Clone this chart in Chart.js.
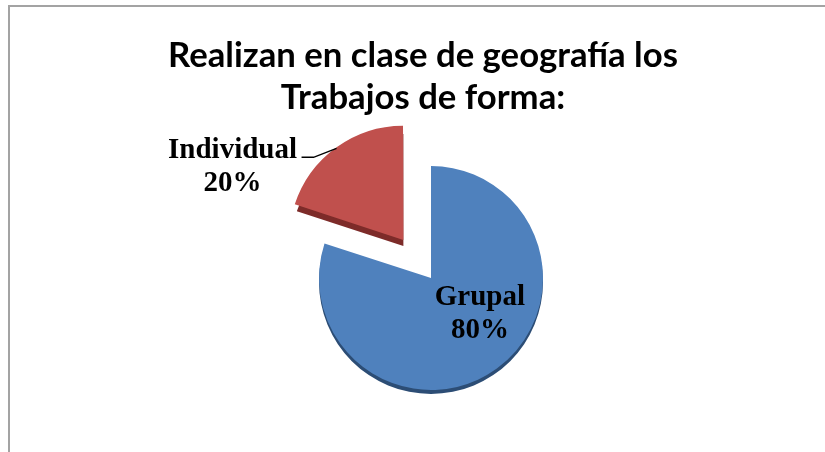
<!DOCTYPE html>
<html>
<head>
<meta charset="utf-8">
<script src="https://cdn.jsdelivr.net/npm/chart.js@4"></script>
<style>
  html, body { margin: 0; padding: 0; background: #fff; }
  #wrap { width: 825px; height: 452px; position: relative; }
</style>
</head>
<body>
<div id="wrap"><canvas id="pieChart" width="825" height="452"></canvas></div>
<script>
const categories = ['Grupal', 'Individual'];
const percentages = [80, 20];
const titleLines = ['Realizan en clase de geografía los', 'Trabajos de forma:'];

const sliceColors = ['#4f81bd', '#c0504d'];
const sideColors = ['#2c4d75', '#7d2b29'];
const sliceOffsets = [0, 188]; // chart.js v4 moves the arc by offset / 4

// frame + title, drawn by hand so the title can sit a bit left of the pie
const framePlugin = {
    id: 'frame',
    beforeDraw(chart) {
        const ctx = chart.ctx;
        ctx.save();
        ctx.strokeStyle = '#a3a3a3';
        ctx.lineWidth = 2;
        ctx.beginPath();
        ctx.moveTo(9, 452);
        ctx.lineTo(9, 6);
        ctx.lineTo(825, 6);
        ctx.stroke();

        ctx.fillStyle = '#000';
        ctx.textAlign = 'center';
        ctx.textBaseline = 'middle';
        // fit first line to about 510px like the original
        let size = 30;
        ctx.font = 'bold ' + size + 'px Lato';
        const w = ctx.measureText(titleLines[0]).width;
        size = size * 510 / w;
        ctx.font = 'bold ' + size.toFixed(1) + 'px Lato';
        ctx.fillText(titleLines[0], 423, 56);
        ctx.fillText(titleLines[1], 423, 98);
        ctx.restore();
    }
};

function sliceCenter(arc, i) {
    const p = arc.getProps(['x', 'y', 'startAngle', 'endAngle', 'outerRadius']);
    const mid = (p.startAngle + p.endAngle) / 2;
    const off = (sliceOffsets[i] || 0) / 4;
    return {
        x: p.x + Math.cos(mid) * off,
        y: p.y + Math.sin(mid) * off,
        a0: p.startAngle, a1: p.endAngle, mid: mid, r: p.outerRadius
    };
}

// fake 3D thickness: darker copy of every slice shifted down
const depthPlugin = {
    id: 'depth',
    beforeDatasetsDraw(chart) {
        const ctx = chart.ctx;
        const arcs = chart.getDatasetMeta(0).data;
        ctx.save();
        arcs.forEach((arc, i) => {
            const s = sliceCenter(arc, i);
            const depth = i === 1 ? 6 : 4;
            ctx.fillStyle = sideColors[i];
            ctx.beginPath();
            ctx.moveTo(s.x, s.y + depth);
            ctx.arc(s.x, s.y + depth, s.r, s.a0, s.a1);
            ctx.closePath();
            ctx.fill();
        });
        ctx.restore();
    }
};

// data labels: Grupal inside, Individual outside with leader line
const labelPlugin = {
    id: 'sliceLabels',
    afterDatasetsDraw(chart) {
        const ctx = chart.ctx;
        const arcs = chart.getDatasetMeta(0).data;
        ctx.save();
        ctx.fillStyle = '#000';
        ctx.font = 'bold 29px "Liberation Serif"';
        ctx.textBaseline = 'middle';
        arcs.forEach((arc, i) => {
            const s = sliceCenter(arc, i);
            const txt = [categories[i], percentages[i] + '%'];
            ctx.textAlign = 'center';
            if (i === 0) {
                const lx = s.x + Math.cos(s.mid) * s.r * 0.5 + 16;
                const ly = s.y + Math.sin(s.mid) * s.r * 0.4;
                ctx.fillText(txt[0], lx, ly - 17);
                ctx.fillText(txt[1], lx, ly + 16);
            } else {
                const ex = s.x + Math.cos(s.mid) * s.r;
                const ey = s.y + Math.sin(s.mid) * s.r;
                ctx.strokeStyle = '#000';
                ctx.lineWidth = 1.5;
                ctx.beginPath();
                ctx.moveTo(ex - 1, ey - 1);
                ctx.lineTo(ex - 24, ey + 8);
                ctx.lineTo(ex - 36, ey + 8);
                ctx.stroke();
                const tx = ex - 105;
                ctx.fillText(txt[0], tx, ey + 1);
                ctx.fillText(txt[1], tx, ey + 34);
            }
        });
        ctx.restore();
    }
};

const ctx = document.getElementById('pieChart').getContext('2d');
new Chart(ctx, {
    type: 'pie',
    data: {
        labels: categories,
        datasets: [{
            data: percentages,
            backgroundColor: sliceColors,
            borderWidth: 0,
            offset: sliceOffsets
        }]
    },
    options: {
        responsive: false,
        animation: false,
        radius: 112,
        layout: { padding: { left: 37, right: 0, top: 120, bottom: 16 } },
        plugins: {
            legend: { display: false },
            tooltip: { enabled: false },
            title: { display: false }
        }
    },
    plugins: [framePlugin, depthPlugin, labelPlugin]
});
</script>
</body>
</html>
